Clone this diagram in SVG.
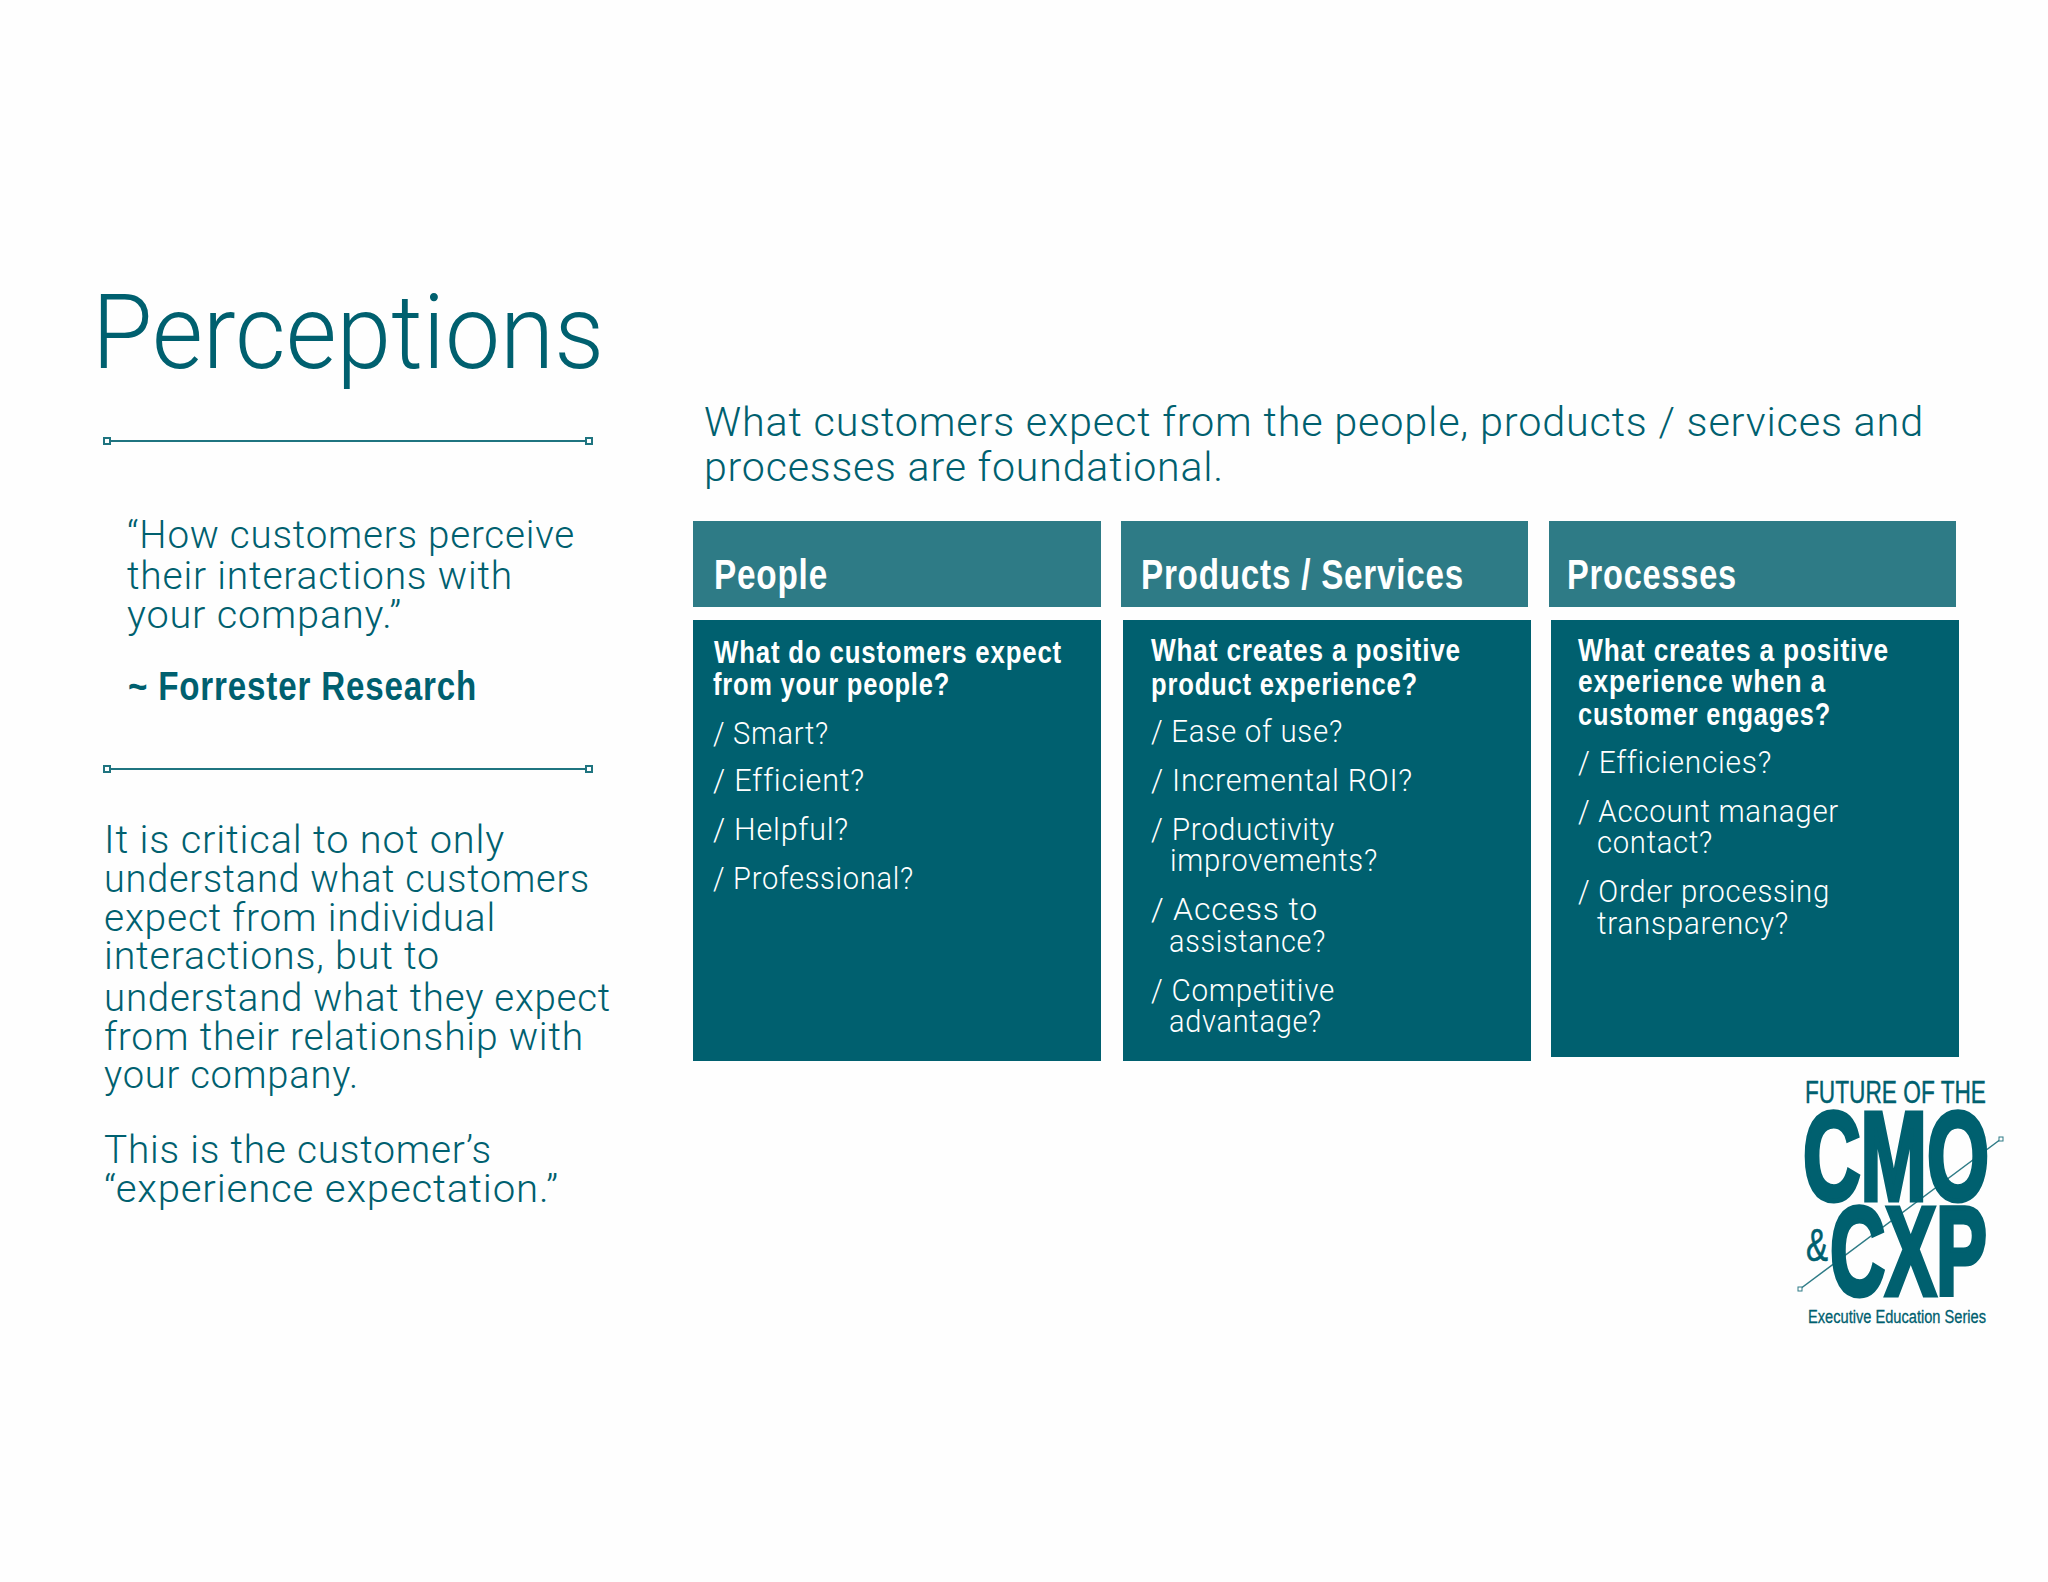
<svg xmlns="http://www.w3.org/2000/svg" width="2048" height="1582" viewBox="0 0 2048 1582">
<style>
text{font-family:"Roboto","Liberation Sans",sans-serif;fill:#00606f;font-weight:300;letter-spacing:.8px}
.title{font-size:103px;letter-spacing:0}
.quote{font-size:39px}
.para{font-size:39px}
.head{font-size:41px}
.strong{font-family:"Liberation Sans Narrow","Liberation Sans",sans-serif;font-weight:700;letter-spacing:1px}
.attr{font-size:41px}
.hdr{font-size:42px;fill:#fff}
.q{font-size:32px;fill:#fff}
.i{font-size:32px;fill:#fff}
.hb{fill:#2e7b86}
.bb{fill:#00606f}
.rule{stroke:#1f7480;stroke-width:2;fill:none}
.tick{fill:#fff;stroke:#1f7480;stroke-width:2}
.lg{font-family:"Liberation Sans Narrow","Liberation Sans",sans-serif;font-weight:700;stroke:#00606f;letter-spacing:0}
.lt{font-family:"Liberation Sans Narrow","Liberation Sans",sans-serif;font-weight:400;stroke:#00606f;letter-spacing:0}
</style>
<rect width="2048" height="1582" fill="#fefefe"/>
<text class="title" x="92" y="368" textLength="512" lengthAdjust="spacingAndGlyphs">Perceptions</text>
<g id="rule-top"><line class="rule" x1="107" y1="441" x2="589" y2="441"/><rect class="tick" x="104" y="438" width="6" height="6"/><rect class="tick" x="586" y="438" width="6" height="6"/></g>
<g id="quote">
<text class="quote" x="127" y="548" textLength="448" lengthAdjust="spacingAndGlyphs">“How customers perceive</text>
<text class="quote" x="127" y="589" textLength="386" lengthAdjust="spacingAndGlyphs">their interactions with</text>
<text class="quote" x="127" y="628" textLength="275" lengthAdjust="spacingAndGlyphs">your company.”</text>
<text class="attr strong" x="128" y="700" textLength="349" lengthAdjust="spacingAndGlyphs">~ Forrester Research</text>
</g>
<g id="rule-bottom"><line class="rule" x1="107" y1="769" x2="589" y2="769"/><rect class="tick" x="104" y="766" width="6" height="6"/><rect class="tick" x="586" y="766" width="6" height="6"/></g>
<g id="paragraph">
<text class="para" x="104" y="853" textLength="401" lengthAdjust="spacingAndGlyphs">It is critical to not only</text>
<text class="para" x="104" y="892" textLength="486" lengthAdjust="spacingAndGlyphs">understand what customers</text>
<text class="para" x="104" y="931" textLength="392" lengthAdjust="spacingAndGlyphs">expect from individual</text>
<text class="para" x="104" y="969" textLength="336" lengthAdjust="spacingAndGlyphs">interactions, but to</text>
<text class="para" x="104" y="1011" textLength="507" lengthAdjust="spacingAndGlyphs">understand what they expect</text>
<text class="para" x="104" y="1050" textLength="480" lengthAdjust="spacingAndGlyphs">from their relationship with</text>
<text class="para" x="104" y="1088" textLength="255" lengthAdjust="spacingAndGlyphs">your company.</text>
<text class="para" x="104" y="1163" textLength="388" lengthAdjust="spacingAndGlyphs">This is the customer’s</text>
<text class="para" x="104" y="1202" textLength="455" lengthAdjust="spacingAndGlyphs">“experience expectation.”</text>
</g>
<g id="headline">
<text class="head" x="704" y="436" textLength="1220" lengthAdjust="spacingAndGlyphs">What customers expect from the people, products / services and</text>
<text class="head" x="704" y="481" textLength="520" lengthAdjust="spacingAndGlyphs">processes are foundational.</text>
</g>
<g id="people">
<rect class="hb" x="693" y="521" width="408" height="86"/>
<text class="hdr strong" x="714" y="589" textLength="114" lengthAdjust="spacingAndGlyphs">People</text>
<rect class="bb" x="693" y="620" width="408" height="441"/>
<text class="q strong" x="714" y="663" textLength="348" lengthAdjust="spacingAndGlyphs">What do customers expect</text>
<text class="q strong" x="713" y="695" textLength="237" lengthAdjust="spacingAndGlyphs">from your people?</text>
<text class="i" x="713" y="744" textLength="116" lengthAdjust="spacingAndGlyphs">/ Smart?</text>
<text class="i" x="713" y="791" textLength="152" lengthAdjust="spacingAndGlyphs">/ Efficient?</text>
<text class="i" x="713" y="840" textLength="136" lengthAdjust="spacingAndGlyphs">/ Helpful?</text>
<text class="i" x="713" y="889" textLength="201" lengthAdjust="spacingAndGlyphs">/ Professional?</text>
</g>
<g id="products">
<rect class="hb" x="1121" y="521" width="407" height="86"/>
<text class="hdr strong" x="1141" y="589" textLength="323" lengthAdjust="spacingAndGlyphs">Products / Services</text>
<rect class="bb" x="1123" y="620" width="408" height="441"/>
<text class="q strong" x="1151" y="661" textLength="310" lengthAdjust="spacingAndGlyphs">What creates a positive</text>
<text class="q strong" x="1151" y="695" textLength="267" lengthAdjust="spacingAndGlyphs">product experience?</text>
<text class="i" x="1151" y="742" textLength="192" lengthAdjust="spacingAndGlyphs">/ Ease of use?</text>
<text class="i" x="1151" y="791" textLength="262" lengthAdjust="spacingAndGlyphs">/ Incremental ROI?</text>
<text class="i" x="1151" y="840" textLength="184" lengthAdjust="spacingAndGlyphs">/ Productivity</text>
<text class="i" x="1170" y="871" textLength="208" lengthAdjust="spacingAndGlyphs">improvements?</text>
<text class="i" x="1151" y="920" textLength="167" lengthAdjust="spacingAndGlyphs">/ Access to</text>
<text class="i" x="1169" y="952" textLength="157" lengthAdjust="spacingAndGlyphs">assistance?</text>
<text class="i" x="1151" y="1001" textLength="184" lengthAdjust="spacingAndGlyphs">/ Competitive</text>
<text class="i" x="1169" y="1032" textLength="153" lengthAdjust="spacingAndGlyphs">advantage?</text>
</g>
<g id="processes">
<rect class="hb" x="1549" y="521" width="407" height="86"/>
<text class="hdr strong" x="1567" y="589" textLength="170" lengthAdjust="spacingAndGlyphs">Processes</text>
<rect class="bb" x="1551" y="620" width="408" height="437"/>
<text class="q strong" x="1578" y="661" textLength="311" lengthAdjust="spacingAndGlyphs">What creates a positive</text>
<text class="q strong" x="1578" y="692" textLength="248" lengthAdjust="spacingAndGlyphs">experience when a</text>
<text class="q strong" x="1578" y="725" textLength="253" lengthAdjust="spacingAndGlyphs">customer engages?</text>
<text class="i" x="1578" y="773" textLength="194" lengthAdjust="spacingAndGlyphs">/ Efficiencies?</text>
<text class="i" x="1578" y="822" textLength="261" lengthAdjust="spacingAndGlyphs">/ Account manager</text>
<text class="i" x="1597" y="853" textLength="116" lengthAdjust="spacingAndGlyphs">contact?</text>
<text class="i" x="1578" y="902" textLength="252" lengthAdjust="spacingAndGlyphs">/ Order processing</text>
<text class="i" x="1597" y="934" textLength="192" lengthAdjust="spacingAndGlyphs">transparency?</text>
</g>
<g id="logo">
<line x1="1800" y1="1289" x2="2001" y2="1139" stroke="#2e7b86" stroke-width="1.5"/>
<rect x="1798" y="1287" width="4" height="4" fill="#fff" stroke="#2e7b86"/>
<rect x="1999" y="1137" width="4" height="4" fill="#fff" stroke="#2e7b86"/>
<text class="lt" style="stroke-width:.4" x="1805" y="1103" font-size="32" textLength="181" lengthAdjust="spacingAndGlyphs">FUTURE OF THE</text>
<text class="lg" style="stroke-width:5" x="1803" y="1200" font-size="126" textLength="186" lengthAdjust="spacingAndGlyphs">CMO</text>
<text class="lt" style="stroke-width:.6" x="1806" y="1261" font-size="46" textLength="22" lengthAdjust="spacingAndGlyphs">&amp;</text>
<text class="lg" style="stroke-width:5" x="1830" y="1295" font-size="126" textLength="157" lengthAdjust="spacingAndGlyphs">CXP</text>
<text class="lt" style="stroke-width:.3" x="1808" y="1323" font-size="18" textLength="178" lengthAdjust="spacingAndGlyphs">Executive Education Series</text>
</g>
</svg>
